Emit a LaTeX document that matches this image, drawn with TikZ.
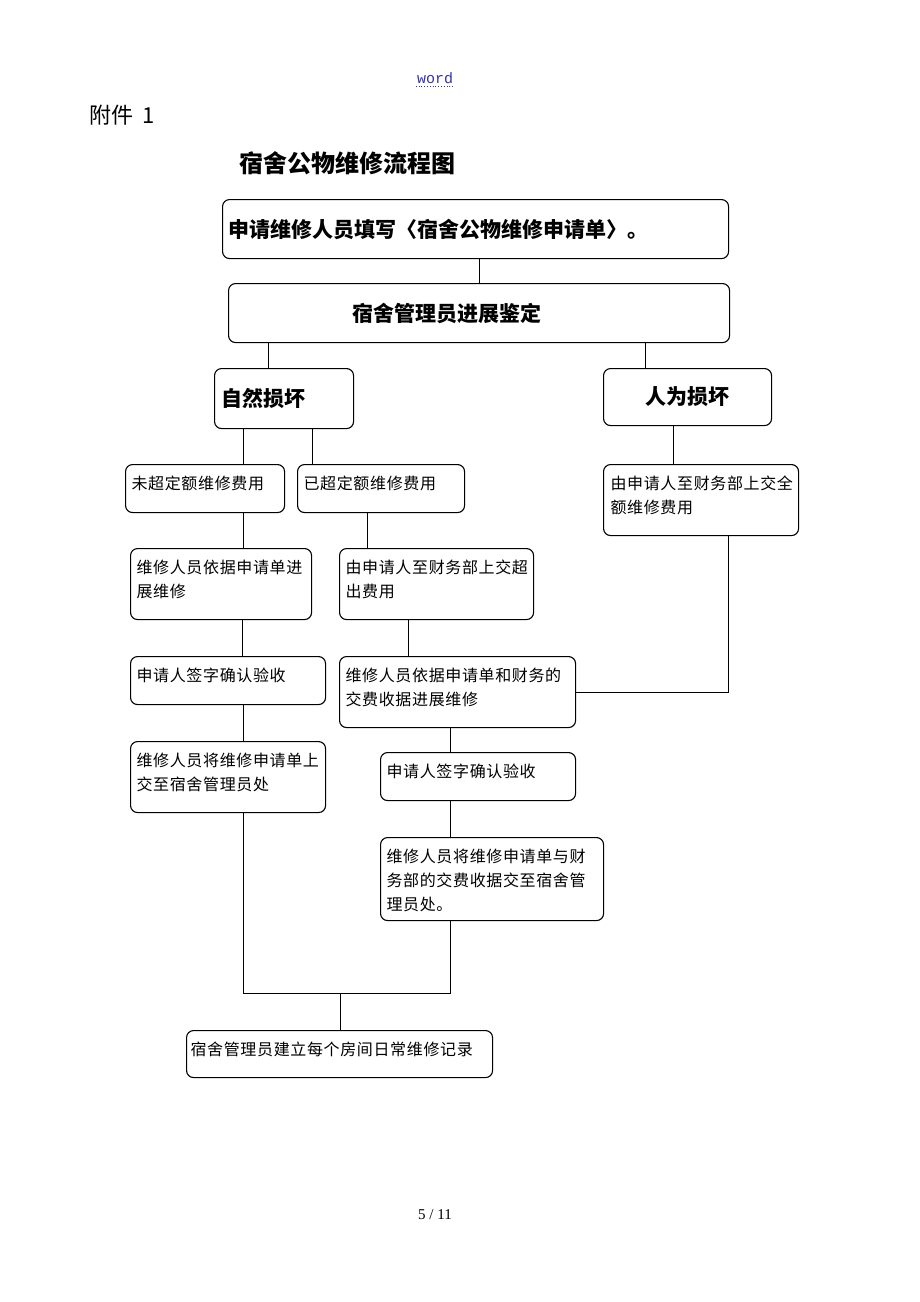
\documentclass[tikz,border=0pt]{standalone}
\usepackage{fontspec}
\usepackage{xcolor}
\setmainfont{Liberation Serif}
\newfontfamily\cjk{Noto Sans CJK SC}
\newfontfamily\cjksp[LetterSpace=4]{Noto Sans CJK SC}
\newfontfamily\wordfont{Liberation Mono}
\definecolor{wordblue}{RGB}{51,51,170}
\usetikzlibrary{positioning,calc}

\begin{document}
\begin{tikzpicture}[x=1pt, y=-1pt,
  flow box/.style={draw, rounded corners=7pt, line width=1.1pt, anchor=north west, inner xsep=6pt, inner ysep=0pt, align=left},
  big box/.style={flow box, font=\cjk\bfseries\fontsize{21}{24}\selectfont},
  small box/.style={flow box, font=\cjksp\fontsize{16}{24}\selectfont, text height=25pt, text depth=#1},
  link/.style={line width=1pt}]
    \useasboundingbox (0,0) rectangle (920,1302);

    \node[text=wordblue, font=\wordfont\fontsize{15}{18}\selectfont, inner sep=1pt] (word) at (435,78) {word};
    \draw[wordblue, dotted, line width=0.8pt] ([yshift=-2pt]word.south west) -- ([yshift=-2pt]word.south east);
    \node[anchor=west, font=\cjk\fontsize{22}{26}\selectfont, inner sep=0pt] (annex) at (89,115) {附件\hspace{9pt}1};
    \node[font=\cjk\bfseries\fontsize{24}{28}\selectfont] (title) at (347,163) {宿舍公物维修流程图};

    \node[big box, text width=494pt, minimum height=59pt] (a) at (222,199) {申请维修人员填写〈宿舍公物维修申请单〉。};
    \node[big box, text width=489pt, minimum height=59pt] (b) at (228,283) {\hspace*{118pt}宿舍管理员进展鉴定};
    \node[big box, text width=125pt, minimum height=60pt, inner xsep=7pt] (c) at (214,368) {自然损坏};
    \node[big box, text width=156pt, minimum height=57pt, align=center] (d) at (603,368) {人为损坏};

    \node[small box=23pt, text width=147pt] (e) at (125,464) {未超定额维修费用};
    \node[small box=23pt, text width=155pt] (f) at (297,464) {已超定额维修费用};
    \node[small box=46pt, text width=181pt, inner xsep=7pt] (g) at (603,464) {由申请人至财务部上交全\\额维修费用};
    \node[small box=46pt, text width=169pt] (h) at (130,548) {维修人员依据申请单进\\展维修};
    \node[small box=46pt, text width=182pt] (i) at (339,548) {由申请人至财务部上交超\\出费用};
    \node[small box=23pt, text width=183pt] (j) at (130,656) {申请人签字确认验收};
    \node[small box=46pt, text width=224pt] (k) at (339,656) {维修人员依据申请单和财务的\\交费收据进展维修};
    \node[small box=46pt, text width=183pt] (l) at (130,741) {维修人员将维修申请单上\\交至宿舍管理员处};
    \node[small box=23pt, text width=183pt] (m) at (380,752) {申请人签字确认验收};
    \node[small box=58pt, text width=211pt] (n) at (380,837) {维修人员将维修申请单与财\\务部的交费收据交至宿舍管\\理员处。};
    \node[small box=22pt, text width=298pt, inner xsep=4pt] (o) at (186,1030) {宿舍管理员建立每个房间日常维修记录};

    \node[font=\fontsize{15}{18}\selectfont] (page) at (435,1215) {5 / 11};

    \coordinate (join) at (340,993);

    \draw[link] (a.south -| b.north) -- (b.north);
    \draw[link] ([xshift=54pt]c.north west) -- ([xshift=54pt]c.north west |- b.south);
    \draw[link] ([xshift=42pt]d.north west) -- ([xshift=42pt]d.north west |- b.south);
    \draw[link] ([xshift=29pt]c.south west) -- ([xshift=29pt]c.south west |- e.north);
    \draw[link] ([xshift=98pt]c.south west) -- ([xshift=98pt]c.south west |- f.north);
    \draw[link] ([xshift=70pt]d.south west) -- ([xshift=70pt]d.south west |- g.north);
    \draw[link] ([xshift=118pt]e.south west) -- ([xshift=118pt]e.south west |- h.north);
    \draw[link] ([xshift=70pt]f.south west) -- ([xshift=70pt]f.south west |- i.north);
    \draw[link] ([xshift=112pt]h.south west) -- ([xshift=112pt]h.south west |- j.north);
    \draw[link] ([xshift=69pt]i.south west) -- ([xshift=69pt]i.south west |- k.north);
    \draw[link] ([xshift=125pt]g.south west) |- (k.east);
    \draw[link] ([xshift=113pt]j.south west) -- ([xshift=113pt]j.south west |- l.north);
    \draw[link] ([xshift=111pt]k.south west) -- ([xshift=111pt]k.south west |- m.north);
    \draw[link] ([xshift=70pt]m.south west) -- ([xshift=70pt]m.south west |- n.north);
    \draw[link] ([xshift=113pt]l.south west) |- (join) -| ([xshift=70pt]n.south west);
    \draw[link] (join) -- (join |- o.north);
\end{tikzpicture}
\end{document}
